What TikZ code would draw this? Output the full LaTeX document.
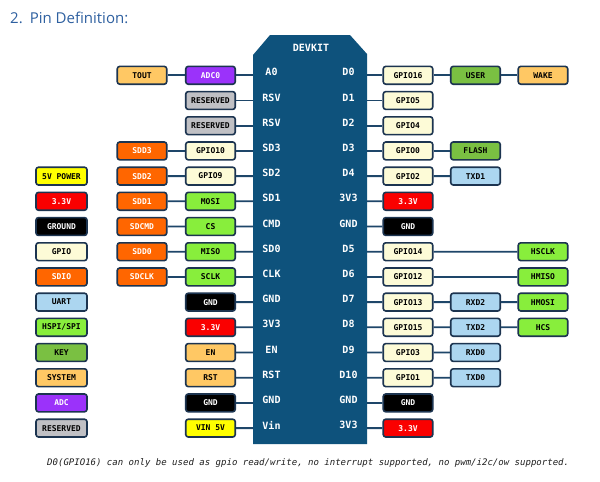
\documentclass[tikz,border=0pt]{standalone}
\usepackage{fontspec}
\newfontfamily\monof{DejaVu Sans Mono}
\newfontfamily\titlef{Open Sans}
\definecolor{titleblue}{RGB}{46,96,160}
\definecolor{boardc}{RGB}{14,82,124}
\definecolor{connc}{RGB}{30,70,105}
\definecolor{borderc}{RGB}{28,52,80}
\definecolor{gpioc}{RGB}{253,251,215}
\definecolor{resc}{RGB}{192,192,196}
\definecolor{adcc}{RGB}{155,50,250}
\definecolor{sysc}{RGB}{255,200,100}
\definecolor{sdioc}{RGB}{255,102,0}
\definecolor{spic}{RGB}{136,238,60}
\definecolor{keyc}{RGB}{122,192,66}
\definecolor{uartc}{RGB}{172,214,240}
\definecolor{p5c}{RGB}{255,255,0}
\definecolor{p3c}{RGB}{250,0,0}
\definecolor{gndc}{RGB}{0,0,0}
\definecolor{notec}{RGB}{30,30,30}
\begin{document}
\begin{tikzpicture}[x=1pt,y=-1pt,
  box/.style={draw=borderc, line width=1.6pt, rounded corners=2.5pt,
    minimum width=49.5pt, minimum height=17.8pt, inner sep=0pt,
    font=\monof\bfseries\fontsize{8}{8}\selectfont},
  lgbox/.style={box, minimum width=51pt},
  gpio/.style={box, fill=gpioc, text=black},
  res/.style={box, fill=resc, text=black},
  adc/.style={box, fill=adcc, text=white},
  sys/.style={box, fill=sysc, text=black},
  sdio/.style={box, fill=sdioc, text=white},
  spi/.style={box, fill=spic, text=black},
  key/.style={box, fill=keyc, text=black},
  uart/.style={box, fill=uartc, text=black},
  pfive/.style={box, fill=p5c, text=black},
  pthree/.style={box, fill=p3c, text=white},
  gnd/.style={box, fill=gndc, text=white},
  conn/.style={draw=connc, line width=1.8pt},
  pinlab/.style={text=white, font=\monof\bfseries\fontsize{10}{10}\selectfont, inner sep=0pt}
]
\useasboundingbox (0,0) rectangle (600,482);
\fill[white] (0,0) rectangle (600,482);

\node[anchor=west, inner sep=0pt, text=titleblue, font=\titlef\fontsize{15}{15}\selectfont] (title) at (10,18) {2.\hspace{7pt}Pin Definition:};

% board
\fill[boardc] (253,444) -- (253,55) -- (270,35) -- (350,35) -- (367,54) -- (367,444) -- cycle;
\node[pinlab] (devkit) at (311,48) {DEVKIT};

\foreach \t [count=\i from 0] in {A0,RSV,RSV,SD3,SD2,SD1,CMD,SD0,CLK,GND,3V3,EN,RST,GND,Vin} {
  \node[pinlab] (pl\i) at (271.5,{72.3+25.2*\i}) {\t};
  \coordinate (bl\i) at (253,{75.3+25.2*\i});
}
\foreach \t [count=\i from 0] in {D0,D1,D2,D3,D4,3V3,GND,D5,D6,D7,D8,D9,D10,GND,3V3} {
  \node[pinlab] (pr\i) at (348.5,{72.3+25.2*\i}) {\t};
  \coordinate (br\i) at (367,{75.3+25.2*\i});
}

% left column 1 (near board)
\node[adc]    (L1-0)  at (210.5,75.3)  {ADC0};
\node[res]    (L1-1)  at (210.5,100.5) {RESERVED};
\node[res]    (L1-2)  at (210.5,125.7) {RESERVED};
\node[gpio]   (L1-3)  at (210.5,150.9) {GPIO10};
\node[gpio]   (L1-4)  at (210.5,176.1) {GPIO9};
\node[spi]    (L1-5)  at (210.5,201.3) {MOSI};
\node[spi]    (L1-6)  at (210.5,226.5) {CS};
\node[spi]    (L1-7)  at (210.5,251.7) {MISO};
\node[spi]    (L1-8)  at (210.5,276.9) {SCLK};
\node[gnd]    (L1-9)  at (210.5,302.1) {GND};
\node[pthree] (L1-10) at (210.5,327.3) {3.3V};
\node[sys]    (L1-11) at (210.5,352.5) {EN};
\node[sys]    (L1-12) at (210.5,377.7) {RST};
\node[gnd]    (L1-13) at (210.5,402.9) {GND};
\node[pfive]  (L1-14) at (210.5,428.1) {VIN 5V};

% left column 2
\node[sys]  (L2-0) at (142,75.3)  {TOUT};
\node[sdio] (L2-3) at (142,150.9) {SDD3};
\node[sdio] (L2-4) at (142,176.1) {SDD2};
\node[sdio] (L2-5) at (142,201.3) {SDD1};
\node[sdio] (L2-6) at (142,226.5) {SDCMD};
\node[sdio] (L2-7) at (142,251.7) {SDD0};
\node[sdio] (L2-8) at (142,276.9) {SDCLK};

% legend
\node[pfive, lgbox]  (Lg-4)  at (61.5,176.1) {5V POWER};
\node[pthree, lgbox] (Lg-5)  at (61.5,201.3) {3.3V};
\node[gnd, lgbox]    (Lg-6)  at (61.5,226.5) {GROUND};
\node[gpio, lgbox]   (Lg-7)  at (61.5,251.7) {GPIO};
\node[sdio, lgbox]   (Lg-8)  at (61.5,276.9) {SDIO};
\node[uart, lgbox]   (Lg-9)  at (61.5,302.1) {UART};
\node[spi, lgbox]    (Lg-10) at (61.5,327.3) {HSPI/SPI};
\node[key, lgbox]    (Lg-11) at (61.5,352.5) {KEY};
\node[sys, lgbox]    (Lg-12) at (61.5,377.7) {SYSTEM};
\node[adc, lgbox]    (Lg-13) at (61.5,402.9) {ADC};
\node[res, lgbox]    (Lg-14) at (61.5,428.1) {RESERVED};

% right column 1
\node[gpio]   (R1-0)  at (408,75.3)  {GPIO16};
\node[gpio]   (R1-1)  at (408,100.5) {GPIO5};
\node[gpio]   (R1-2)  at (408,125.7) {GPIO4};
\node[gpio]   (R1-3)  at (408,150.9) {GPIO0};
\node[gpio]   (R1-4)  at (408,176.1) {GPIO2};
\node[pthree] (R1-5)  at (408,201.3) {3.3V};
\node[gnd]    (R1-6)  at (408,226.5) {GND};
\node[gpio]   (R1-7)  at (408,251.7) {GPIO14};
\node[gpio]   (R1-8)  at (408,276.9) {GPIO12};
\node[gpio]   (R1-9)  at (408,302.1) {GPIO13};
\node[gpio]   (R1-10) at (408,327.3) {GPIO15};
\node[gpio]   (R1-11) at (408,352.5) {GPIO3};
\node[gpio]   (R1-12) at (408,377.7) {GPIO1};
\node[gnd]    (R1-13) at (408,402.9) {GND};
\node[pthree] (R1-14) at (408,428.1) {3.3V};

% right column 2
\node[key]  (R2-0)  at (475.5,75.3)  {USER};
\node[key]  (R2-3)  at (475.5,150.9) {FLASH};
\node[uart] (R2-4)  at (475.5,176.1) {TXD1};
\node[uart] (R2-9)  at (475.5,302.1) {RXD2};
\node[uart] (R2-10) at (475.5,327.3) {TXD2};
\node[uart] (R2-11) at (475.5,352.5) {RXD0};
\node[uart] (R2-12) at (475.5,377.7) {TXD0};

% right column 3
\node[sys] (R3-0)  at (543,75.3)  {WAKE};
\node[spi] (R3-7)  at (543,251.7) {HSCLK};
\node[spi] (R3-8)  at (543,276.9) {HMISO};
\node[spi] (R3-9)  at (543,302.1) {HMOSI};
\node[spi] (R3-10) at (543,327.3) {HCS};

% connectors left
\draw[conn] (bl0) -- (L1-0) -- (L2-0);
\draw[conn] (bl1) -- (L1-1);
\draw[conn] (bl2) -- (L1-2);
\foreach \i in {3,...,8} { \draw[conn] (bl\i) -- (L1-\i) -- (L2-\i); }
\foreach \i in {9,...,14} { \draw[conn] (bl\i) -- (L1-\i); }

% connectors right
\draw[conn] (br0) -- (R1-0) -- (R2-0) -- (R3-0);
\draw[conn] (br1) -- (R1-1);
\draw[conn] (br2) -- (R1-2);
\draw[conn] (br3) -- (R1-3) -- (R2-3);
\draw[conn] (br4) -- (R1-4) -- (R2-4);
\draw[conn] (br5) -- (R1-5);
\draw[conn] (br6) -- (R1-6);
\draw[conn] (br7) -- (R1-7) -- (R3-7);
\draw[conn] (br8) -- (R1-8) -- (R3-8);
\draw[conn] (br9) -- (R1-9) -- (R2-9) -- (R3-9);
\draw[conn] (br10) -- (R1-10) -- (R2-10) -- (R3-10);
\draw[conn] (br11) -- (R1-11) -- (R2-11);
\draw[conn] (br12) -- (R1-12) -- (R2-12);
\draw[conn] (br13) -- (R1-13);
\draw[conn] (br14) -- (R1-14);

\node[anchor=west, inner sep=0pt, text=notec, font=\monof\itshape\fontsize{9.03}{9.03}\selectfont] (note) at (47,463) {D0(GPIO16) can only be used as gpio read/write, no interrupt supported, no pwm/i2c/ow supported.};
\end{tikzpicture}
\end{document}
